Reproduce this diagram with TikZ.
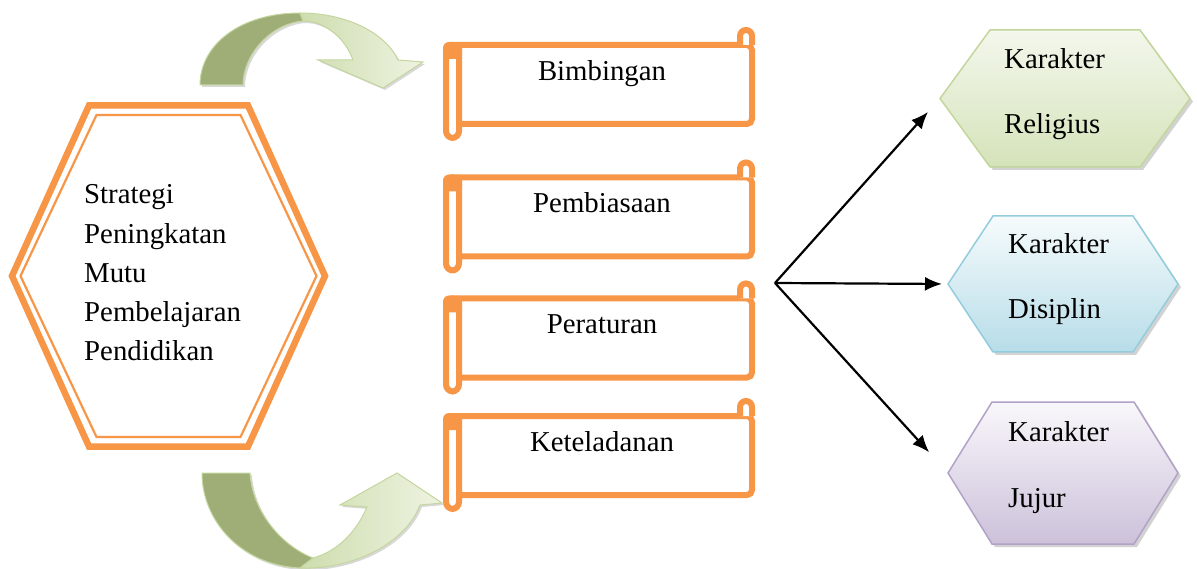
\documentclass[tikz,border=0pt]{standalone}
\usepackage{fontspec}
\setmainfont{Liberation Serif}
\usepackage{tikz}
\usetikzlibrary{arrows.meta, positioning, calc, shadows}

\definecolor{scrollorange}{RGB}{247,150,70}
\definecolor{arrowdark}{RGB}{158,174,118}
\definecolor{arrowlight}{RGB}{206,221,174}
\definecolor{arrowpale}{RGB}{238,243,226}
\definecolor{arrowedge}{RGB}{196,214,158}
\definecolor{religedge}{RGB}{195,214,155}
\definecolor{religtop}{RGB}{243,247,236}
\definecolor{religfill}{RGB}{213,227,186}
\definecolor{disipedge}{RGB}{147,205,221}
\definecolor{disiptop}{RGB}{246,251,252}
\definecolor{disipfill}{RGB}{183,221,232}
\definecolor{jujuredge}{RGB}{179,162,199}
\definecolor{jujurtop}{RGB}{249,247,251}
\definecolor{jujurfill}{RGB}{204,193,218}

\begin{document}
\begin{tikzpicture}[
  x=1pt, y=-1pt,
  font=\fontsize{28.8}{39.3}\selectfont,
  scroll/.style={
    rectangle, draw=scrollorange, fill=white,
    line width=6pt, rounded corners=5pt, outer sep=0pt,
    minimum width=300pt, minimum height=79pt,
    text height=20pt, text depth=28pt
  },
  rollline/.style={draw=scrollorange, fill=white, line width=6pt},
  hexbox/.style={rectangle, inner sep=0pt, outer sep=0pt},
  hextext/.style={
    align=left, anchor=west, inner sep=0pt,
    font=\fontsize{28.8}{65}\selectfont
  },
  arrowback/.style={
    fill=arrowdark, draw=arrowedge, line width=1pt,
    drop shadow={shadow xshift=2pt, shadow yshift=-2pt, fill=gray!60}
  },
  arrowfront/.style={
    left color=arrowlight, right color=arrowpale, draw=arrowedge, line width=1pt,
    drop shadow={shadow xshift=2pt, shadow yshift=-2pt, fill=gray!60}
  },
  hexgreen/.style={draw=religedge, line width=1.5pt, top color=religtop, bottom color=religfill},
  hexblue/.style={draw=disipedge, line width=1.5pt, top color=disiptop, bottom color=disipfill},
  hexpurple/.style={draw=jujuredge, line width=1.5pt, top color=jujurtop, bottom color=jujurfill},
  hexshadow/.style={drop shadow={shadow xshift=3pt, shadow yshift=-3pt, fill=gray!70}},
  fanarrow/.style={draw, -{Latex[length=17pt, width=14pt]}, line width=2.2pt}
]
  \useasboundingbox (0,0) rectangle (1197,569);

  % strategy hexagon
  \node[hexbox, minimum width=313pt, minimum height=341pt] (strat) at (168.5,276) {};
  \draw[scrollorange, line width=6.5pt, fill=white]
    (strat.west) -- ([xshift=77pt]strat.north west) -- ([xshift=-77pt]strat.north east)
    -- (strat.east) -- ([xshift=-77pt]strat.south east) -- ([xshift=77pt]strat.south west) -- cycle;
  \draw[scrollorange, line width=2.2pt]
    ($(strat.west)+(8.5,0)$) -- ($(strat.north west)+(84.5,9.5)$) -- ($(strat.north east)+(-84.5,9.5)$)
    -- ($(strat.east)+(-8.5,0)$) -- ($(strat.south east)+(-84.5,-9.5)$) -- ($(strat.south west)+(84.5,-9.5)$) -- cycle;
  \node[align=left, anchor=west, inner sep=0pt] (strattext) at ([xshift=72pt, yshift=3pt]strat.west)
    {Strategi\\Peningkatan\\Mutu\\Pembelajaran\\Pendidikan};

  % scrolls
  \node[scroll] (bimb) at (602,84.5) {Bimbingan};
  \node[scroll, below=53.5pt of bimb] (pemb) {Pembiasaan};
  \node[scroll, below=42pt of pemb] (pera) {Peraturan};
  \node[scroll, below=38.5pt of pera] (ketel) {Keteladanan};

  \foreach \sc in {bimb,pemb,pera,ketel}{
    \draw[rollline, rounded corners=7pt] ($(\sc.north west)+(-6,0)$) rectangle ($(\sc.south west)+(7,14)$);
    \fill[scrollorange, rounded corners=6pt] ($(\sc.north west)+(-9,-3)$) rectangle ($(\sc.north west)+(10,14)$);
    \draw[rollline] ($(\sc.north east)+(-12,0)$) -- ++(0,-9) arc[start angle=180, end angle=360, radius=6] -- (\sc.north east);
  }

  % curved arrows
  \path[arrowback] (200,85) .. controls (200,45) and (240,13) .. (300,13)
    -- (303,21) .. controls (270,24) and (243,55) .. (243,85) -- cycle;
  \path[arrowfront] (300,13) .. controls (345,13) and (385,32) .. (398,60)
    -- (423,62) -- (383,88) -- (318,60) -- (353,60)
    .. controls (345,38) and (325,21) .. (303,21) -- cycle;

  \path[arrowback] (202,473) .. controls (202,520) and (240,565) .. (300,568)
    -- (313,558) .. controls (280,545) and (252,510) .. (250,473) -- cycle;
  \path[arrowfront] (300,568) .. controls (350,570) and (405,545) .. (420,505)
    -- (442,503) -- (397,473) -- (340,505) -- (367,507)
    .. controls (355,535) and (335,552) .. (313,558) -- cycle;

  % character hexagons
  \node[hexbox, minimum width=250pt, minimum height=137pt] (relig) at (1065,98.5) {};
  \node[hexbox, minimum width=230pt, minimum height=136pt] (disip) at (1063,284) {};
  \node[hexbox, minimum width=230pt, minimum height=142pt] (jujur) at (1063,473) {};

  \foreach \hx/\ins/\sty in {relig/50/hexgreen, disip/45/hexblue, jujur/44/hexpurple}{
    \path[\sty, hexshadow]
      (\hx.west) -- ([xshift=\ins pt]\hx.north west) -- ([xshift=-\ins pt]\hx.north east)
      -- (\hx.east) -- ([xshift=-\ins pt]\hx.south east) -- ([xshift=\ins pt]\hx.south west) -- cycle;
  }

  \node[hextext] (religtext) at ([xshift=64pt, yshift=4.6pt]relig.west) {Karakter\\Religius};
  \node[hextext] (disiptext) at ([xshift=60pt, yshift=5pt]disip.west) {Karakter\\Disiplin};
  \node[hextext, font=\fontsize{28.8}{66}\selectfont] (jujurtext) at ([xshift=60pt, yshift=5.6pt]jujur.west) {Karakter\\Jujur};

  % fan of arrows
  \coordinate (fan) at (775,283);
  \path[fanarrow, shorten >=18pt] (fan) -- (relig.west);
  \path[fanarrow, shorten >=6pt] (fan) -- (disip.west);
  \path[fanarrow, shorten >=28pt] (fan) -- (jujur.west);

\end{tikzpicture}
\end{document}
